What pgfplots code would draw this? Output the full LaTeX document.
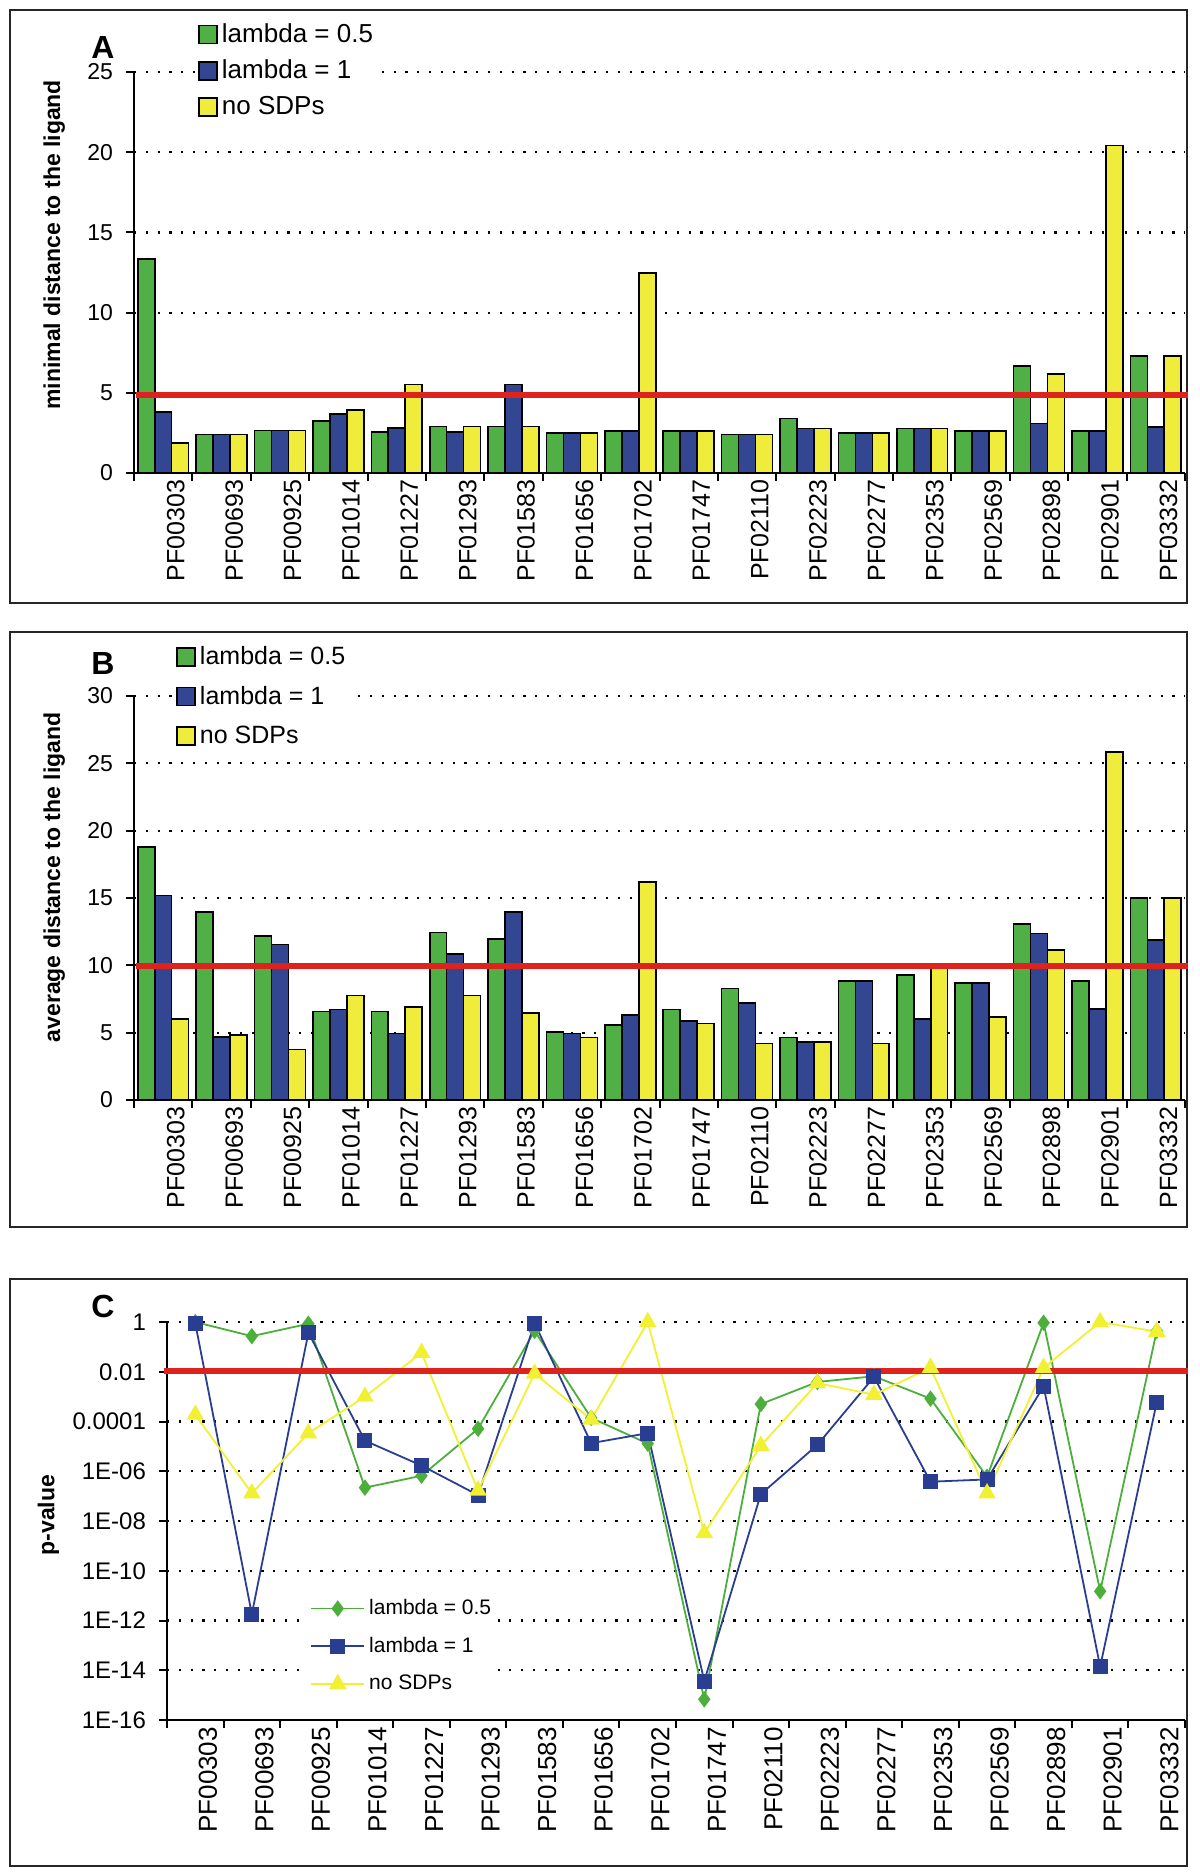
\documentclass[border=0pt]{standalone}
\usepackage{fontspec}
\setmainfont{Liberation Sans}
\usepackage{pgfplots}
\usepackage{pgfplotstable}
\pgfplotsset{compat=1.18}

\definecolor{cgreen}{RGB}{80,176,70}
\definecolor{cblue}{RGB}{50,70,145}
\definecolor{cyellow}{RGB}{240,236,60}
\definecolor{cred}{RGB}{220,35,30}
\definecolor{lgreen}{RGB}{76,175,60}
\definecolor{lblue}{RGB}{42,62,145}
\definecolor{lyellow}{RGB}{242,240,50}

\pgfplotstableread{
x g b y
0 13.35 3.8 1.87
1 2.41 2.41 2.41
2 2.66 2.66 2.66
3 3.24 3.68 3.93
4 2.54 2.81 5.53
5 2.89 2.56 2.89
6 2.89 5.53 2.89
7 2.5 2.5 2.5
8 2.62 2.62 12.48
9 2.62 2.62 2.62
10 2.39 2.39 2.39
11 3.39 2.77 2.77
12 2.5 2.5 2.5
13 2.77 2.77 2.77
14 2.62 2.62 2.62
15 6.66 3.08 6.16
16 2.62 2.62 20.42
17 7.28 2.87 7.28
}\dataA

\pgfplotstableread{
x g b y
0 18.8 15.2 6.0
1 13.96 4.7 4.83
2 12.18 11.56 3.74
3 6.56 6.73 7.77
4 6.56 4.95 6.9
5 12.45 10.84 7.77
6 11.96 13.96 6.44
7 5.07 4.95 4.63
8 5.57 6.31 16.2
9 6.73 5.87 5.69
10 8.27 7.2 4.2
11 4.65 4.33 4.33
12 8.86 8.86 4.2
13 9.28 6.0 9.9
14 8.71 8.71 6.16
15 13.07 12.38 11.14
16 8.86 6.76 25.84
17 15.02 11.88 15.02
}\dataB

\pgfplotstableread{
x g b y
0 1 0.89 1.9e-4
1 0.27 1.8e-12 1.3e-7
2 0.85 0.37 3.4e-5
3 2.2e-7 1.7e-5 1.0e-3
4 6.6e-7 1.7e-6 0.058
5 5.1e-5 1.1e-7 1.7e-7
6 0.44 0.89 8.5e-3
7 1.4e-4 1.35e-5 1.2e-4
8 1.3e-5 3.4e-5 1
9 6.8e-16 3.7e-15 3.3e-9
10 5.0e-4 1.2e-7 1.07e-5
11 3.9e-3 1.15e-5 3.5e-3
12 6.6e-3 6.2e-3 1.2e-3
13 8.3e-4 3.8e-7 0.0145
14 6.0e-7 4.7e-7 1.3e-7
15 0.93 2.6e-3 0.0145
16 1.5e-11 1.4e-14 1
17 0.44 5.9e-4 0.41
}\dataC

\pgfplotsset{
  common/.style={
    scale only axis,
    axis x line*=bottom, axis y line*=left,
    axis line style={line width=1pt, black},
    xmin=-0.5, xmax=17.5,
    xtick={-0.5,0.5,...,17.5}, xticklabels={},
    extra x ticks={0,1,2,3,4,5,6,7,8,9,10,11,12,13,14,15,16,17},
    extra x tick labels={PF00303,PF00693,PF00925,PF01014,PF01227,PF01293,PF01583,PF01656,PF01702,PF01747,PF02110,PF02223,PF02277,PF02353,PF02569,PF02898,PF02901,PF03332},
    extra x tick style={major tick length=0pt},
    xticklabel style={rotate=90, anchor=east, font=\fontsize{12.5}{14}\selectfont, yshift=-6.3pt},
    yticklabel style={font=\fontsize{11.5}{13}\selectfont, xshift=-3pt},
    tick align=outside, major tick length=4pt,
    every tick/.style={black, line width=1pt},
    ymajorgrids,
    major grid style={black, line width=1.1pt, dash pattern=on 1.1pt off 4.8pt},
    /pgf/number format/assume math mode=true,
    clip=false,
    legend cell align=left,
    ylabel style={font=\bfseries\fontsize{11.5}{13}\selectfont, anchor=center},
  },
  barleg/.style={
    legend image code/.code={\draw[##1,line width=0.8pt] (0pt,-4.5pt) rectangle (9pt,4.5pt);},
  },
}

\begin{document}
\begin{tikzpicture}
\useasboundingbox (0,0) rectangle (600pt,-938pt);
% panel boxes
\draw[line width=1.3pt, black!85] (5pt,-5pt) rectangle (593.5pt,-301.5pt);
\draw[line width=1.3pt, black!85] (5pt,-316pt) rectangle (593.5pt,-613.5pt);
\draw[line width=1.3pt, black!85] (5pt,-639.5pt) rectangle (593.5pt,-933pt);
\node[font=\bfseries\fontsize{16}{18}\selectfont, inner sep=1pt] at (51.5pt,-23.5pt) {A};
\node[font=\bfseries\fontsize{16}{18}\selectfont, inner sep=1pt] at (51.5pt,-331.5pt) {B};
\node[font=\bfseries\fontsize{16}{18}\selectfont, inner sep=1pt] at (51.5pt,-653pt) {C};

% Panel A
\begin{axis}[common,
  at={(67pt,-236.5pt)}, anchor=south west,
  width=525.5pt, height=200.5pt,
  ymin=0, ymax=25, ytick={0,5,10,15,20,25},
  ybar, bar width=0.29, barleg,
  ylabel={minimal distance to the ligand},
  ylabel style={at={(axis description cs:-0.0758,0.569)}},
  legend style={at={(0.058,1.1396)}, anchor=north west, draw=none, fill=white,
    font=\fontsize{13}{15}\selectfont, row sep=3.3pt, inner sep=1.5pt},
]
\addplot[fill=cgreen, draw=black, line width=0.8pt, bar shift=-0.29, barleg] table[x=x,y=g] {\dataA};
\addplot[fill=cblue, draw=black, line width=0.8pt, bar shift=0, barleg] table[x=x,y=b] {\dataA};
\addplot[fill=cyellow, draw=black, line width=0.8pt, bar shift=0.29, barleg] table[x=x,y=y] {\dataA};
\addplot[cred, line width=3pt, sharp plot, forget plot] coordinates {(-0.47,4.89) (17.55,4.89)};
\legend{lambda = 0.5, lambda = 1, no SDPs}
\end{axis}

% Panel B
\begin{axis}[common,
  at={(67pt,-550pt)}, anchor=south west,
  width=525.5pt, height=202pt,
  ymin=0, ymax=30, ytick={0,5,10,15,20,25,30},
  ybar, bar width=0.29, barleg,
  ylabel={average distance to the ligand},
  ylabel style={at={(axis description cs:-0.0758,0.551)}},
  legend style={at={(0.0371,1.141)}, anchor=north west, draw=none, fill=white,
    font=\fontsize{12.5}{14}\selectfont, row sep=5.25pt, inner sep=1.5pt},
]
\addplot[fill=cgreen, draw=black, line width=0.8pt, bar shift=-0.29, barleg] table[x=x,y=g] {\dataB};
\addplot[fill=cblue, draw=black, line width=0.8pt, bar shift=0, barleg] table[x=x,y=b] {\dataB};
\addplot[fill=cyellow, draw=black, line width=0.8pt, bar shift=0.29, barleg] table[x=x,y=y] {\dataB};
\addplot[cred, line width=3pt, sharp plot, forget plot] coordinates {(-0.47,9.95) (17.55,9.95)};
\legend{lambda = 0.5, lambda = 1, no SDPs}
\end{axis}

% Panel C
\begin{axis}[common,
  at={(83.5pt,-860pt)}, anchor=south west,
  width=509pt, height=199pt,
  xticklabel style={font=\fontsize{13}{15}\selectfont},
  yticklabel style={font=\fontsize{12}{14}\selectfont},
  ymode=log, ymin=1e-16, ymax=1,
  ytick={1e-16,1e-14,1e-12,1e-10,1e-8,1e-6,1e-4,1e-2,1},
  yticklabels={1E-16,1E-14,1E-12,1E-10,1E-08,1E-06,0.0001,0.01,1},
  minor ytick={},
  ylabel={p-value},
  ylabel style={at={(axis description cs:-0.1164,0.515)}},
  legend image code/.code={\draw[mark repeat=2,mark phase=2,#1] plot coordinates {(0pt,0pt) (13.25pt,0pt) (26.5pt,0pt)};},
  legend style={at={(0.1375,0.3216)}, anchor=north west, draw=none, fill=white,
    font=\fontsize{10.5}{12}\selectfont, row sep=5.8pt, inner sep=1.5pt},
]
\addplot[lgreen, line width=0.9pt, mark=diamond*, mark size=3.4pt, mark options={fill=lgreen, draw=lgreen}] table[x=x,y=g] {\dataC};
\addplot[lblue, line width=0.9pt, mark=square*, mark size=3.3pt, mark options={fill=lblue, draw=lblue}] table[x=x,y=b] {\dataC};
\addplot[lyellow, line width=0.9pt, mark=triangle*, mark size=4.2pt, mark options={fill=lyellow, draw=lyellow}] table[x=x,y=y] {\dataC};
\addplot[cred, line width=3pt, sharp plot, forget plot] coordinates {(-0.55,0.0105) (17.55,0.0105)};
\legend{lambda = 0.5, lambda = 1, no SDPs}
\end{axis}
\end{tikzpicture}
\end{document}
